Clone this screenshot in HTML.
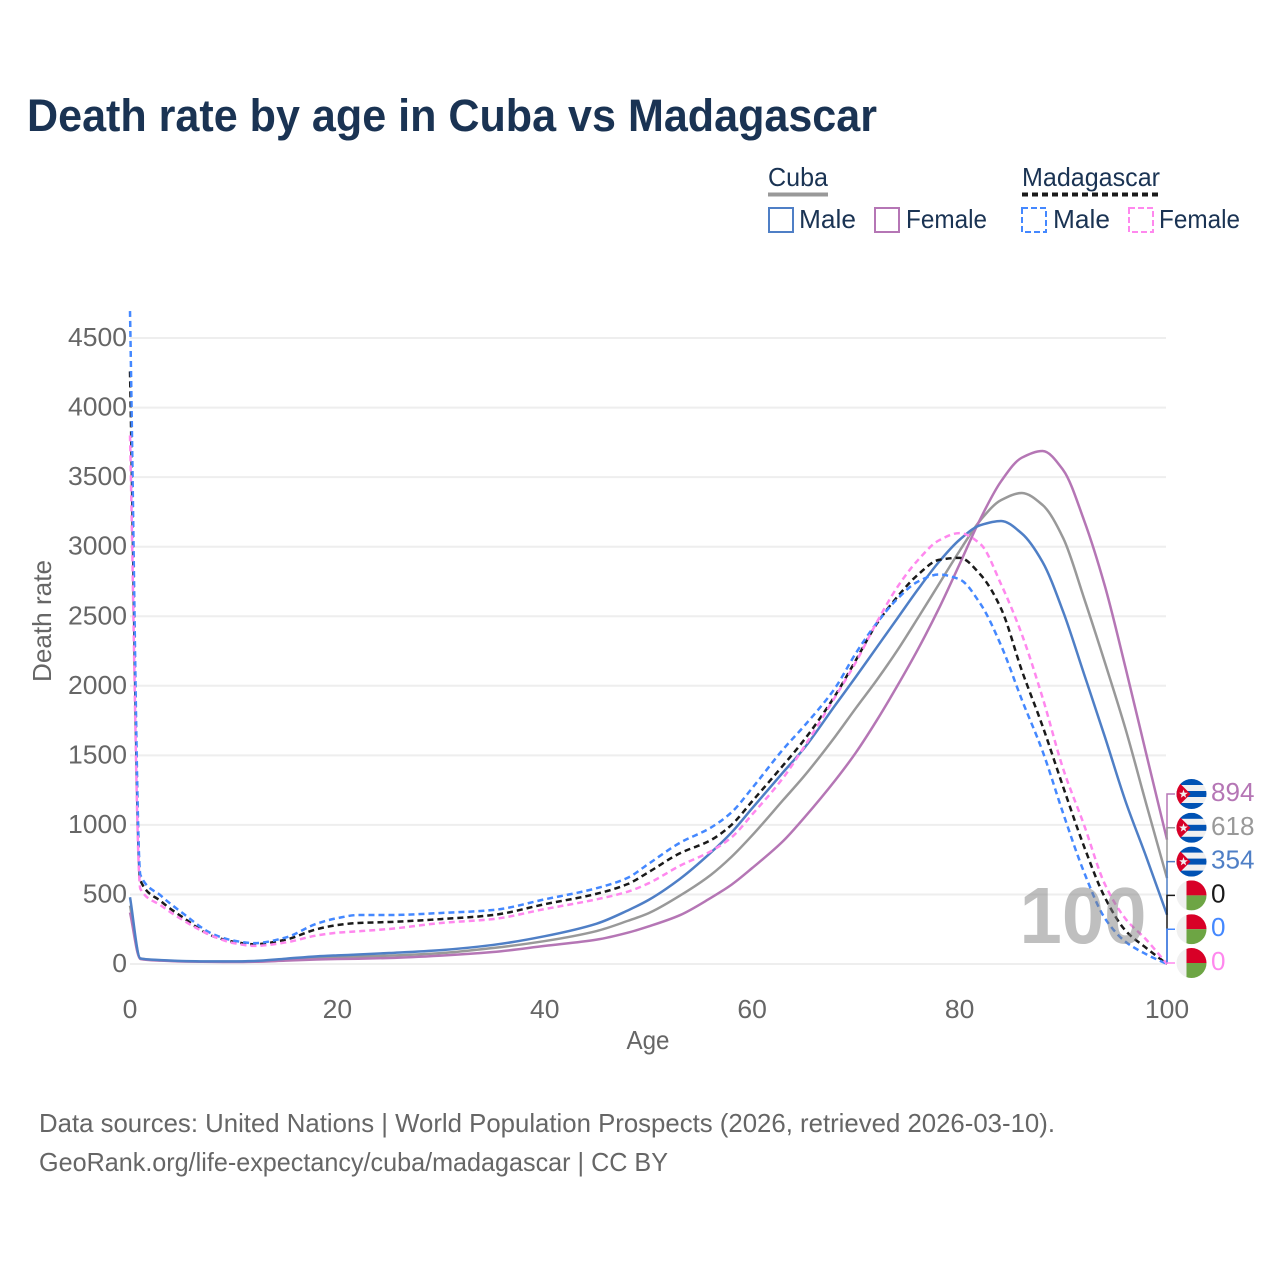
<!DOCTYPE html>
<html lang="en">
<head>
<meta charset="utf-8">
<title>Death rate by age in Cuba vs Madagascar</title>
<style>
html,body{margin:0;padding:0;background:#fff;}
svg{display:block;font-family:"Liberation Sans",sans-serif;}
</style>
</head>
<body>
<svg id="chart" width="1280" height="1280" viewBox="0 0 1280 1280" xmlns="http://www.w3.org/2000/svg">
  <defs>
    <clipPath id="flag-clip"><circle cx="0" cy="0" r="15"></circle></clipPath>
    <g id="flag-cuba">
      <g clip-path="url(#flag-clip)">
        <rect x="-15" y="-15" width="30" height="30" fill="#f0f0f0"></rect>
        <rect x="-15" y="-15" width="30" height="6" fill="#0052b4"></rect>
        <rect x="-15" y="-3" width="30" height="6" fill="#0052b4"></rect>
        <rect x="-15" y="9" width="30" height="6" fill="#0052b4"></rect>
        <polygon points="-15,-14 -15,14 -1,0" fill="#d80027"></polygon>
        <polygon points="-8,-4.5 -6.9,-1.3 -3.6,-1.3 -6.2,0.7 -5.3,3.8 -8,1.9 -10.7,3.8 -9.8,0.7 -12.4,-1.3 -9.1,-1.3" fill="#f0f0f0"></polygon>
      </g>
    </g>
    <g id="flag-madagascar">
      <g clip-path="url(#flag-clip)">
        <rect x="-15" y="-15" width="30" height="30" fill="#f0f0f0"></rect>
        <rect x="-5" y="-15" width="20" height="15" fill="#d80027"></rect>
        <rect x="-5" y="0" width="20" height="15" fill="#6da544"></rect>
      </g>
    </g>
  </defs>

  <text x="27" y="131" font-size="45" font-weight="700" fill="#1a3353" textLength="850" lengthAdjust="spacingAndGlyphs">Death rate by age in Cuba vs Madagascar</text>

  <g font-size="25.6" fill="#1a3353">
    <text x="768" y="186" textLength="60" lengthAdjust="spacingAndGlyphs">Cuba</text>
    <line x1="768" x2="828" y1="194.5" y2="194.5" stroke="#999999" stroke-width="4"></line>
    <text x="1022" y="186" textLength="138" lengthAdjust="spacingAndGlyphs">Madagascar</text>
    <line x1="1022" x2="1159" y1="194.5" y2="194.5" stroke="#1a1a1a" stroke-width="4" stroke-dasharray="6 4"></line>

    <rect x="769" y="208" width="24" height="24" fill="none" stroke="#4f7fc6" stroke-width="2"></rect>
    <text x="799" y="228" textLength="57" lengthAdjust="spacingAndGlyphs">Male</text>
    <rect x="875" y="208" width="24" height="24" fill="none" stroke="#b576b5" stroke-width="2"></rect>
    <text x="906" y="228" textLength="81" lengthAdjust="spacingAndGlyphs">Female</text>
    <rect x="1022" y="208" width="24" height="24" fill="none" stroke="#4488ff" stroke-width="2" stroke-dasharray="6 3"></rect>
    <text x="1053" y="228" textLength="57" lengthAdjust="spacingAndGlyphs">Male</text>
    <rect x="1129" y="208" width="24" height="24" fill="none" stroke="#ff88ee" stroke-width="2" stroke-dasharray="6 3"></rect>
    <text x="1159" y="228" textLength="81" lengthAdjust="spacingAndGlyphs">Female</text>
  </g>

  <g id="grid"></g>
  <g id="y-ticks" font-size="25.6" fill="#666666" text-anchor="end"></g>
  <g id="x-ticks" font-size="25.6" fill="#666666" text-anchor="middle"></g>
  <text x="648" y="1049" font-size="25.6" fill="#666666" text-anchor="middle" textLength="43" lengthAdjust="spacingAndGlyphs">Age</text>
  <text transform="translate(51,621) rotate(-90)" font-size="25.6" fill="#666666" text-anchor="middle" textLength="122" lengthAdjust="spacingAndGlyphs">Death rate</text>

  <g id="series" fill="none" stroke-width="2.5" stroke-linejoin="round"></g>
  <g id="connectors" fill="none" stroke-width="1.5"></g>

  <text x="1083" y="943" font-size="80" font-weight="700" fill="#808080" fill-opacity="0.5" text-anchor="middle" textLength="127" lengthAdjust="spacingAndGlyphs">100</text>

  <g id="end-labels" font-size="25.6"></g>

  <g font-size="25.6" fill="#666666">
    <text x="39" y="1132" textLength="1016" lengthAdjust="spacingAndGlyphs">Data sources: United Nations | World Population Prospects (2026, retrieved 2026-03-10).</text>
    <text x="39" y="1171" textLength="629" lengthAdjust="spacingAndGlyphs">GeoRank.org/life-expectancy/cuba/madagascar | CC BY</text>
  </g>
</svg>

<script>
const ages = [0,1,3,5,8,10,12,15,18,20,22,25,30,35,40,45,48,50,53,56,58,60,63,65,68,70,72,74,76,78,80,82,84,86,88,90,92,94,96,98,100];
const cubaMale = [480,40,28,22,19,19,22,38,55,62,68,79,100,137,200,290,385,460,610,800,945,1120,1380,1550,1860,2065,2275,2485,2695,2890,3050,3155,3185,3095,2890,2530,2085,1635,1170,770,354];
const cubaBoth = [420,40,26,20,17,17,20,32,44,50,54,60,78,115,165,237,310,365,490,640,770,925,1180,1350,1635,1840,2040,2255,2490,2730,2970,3190,3335,3386,3300,3060,2630,2170,1690,1150,618];
const cubaFemale = [370,36,24,18,15,14,16,24,32,36,38,43,60,86,130,175,225,270,350,475,570,690,885,1050,1320,1520,1750,2000,2265,2555,2875,3200,3470,3640,3688,3550,3190,2720,2130,1510,894];
const madBoth = [4260,600,450,340,200,160,142,175,250,280,295,302,323,352,430,505,575,660,795,890,1000,1170,1430,1610,1930,2185,2445,2640,2800,2905,2920,2800,2555,2110,1710,1270,845,480,240,115,0];
const madMale = [4694,640,490,370,215,168,150,190,290,330,352,352,367,388,465,545,620,720,870,980,1090,1265,1545,1710,1985,2235,2450,2625,2750,2800,2765,2590,2290,1900,1530,1080,660,330,160,70,0];
const madFemale = [3800,540,420,320,200,150,130,155,205,225,235,252,295,323,395,465,520,580,705,810,910,1075,1340,1560,1920,2170,2455,2710,2905,3045,3098,3020,2730,2370,1915,1400,1000,575,325,175,0];
const yTickValues = [0,500,1000,1500,2000,2500,3000,3500,4000,4500];
const xTickValues = [0,20,40,60,80,100];
const endValues = [894,618,354,0,0,0];
const endAge = 100;

const NS = 'http://www.w3.org/2000/svg';
const xScale = a => 130 + a * 10.37;
const yScale = v => 964 - v * 0.1391;

function make(tag, attrs, parent) {
  const el = document.createElementNS(NS, tag);
  for (const k in attrs) el.setAttribute(k, attrs[k]);
  parent.appendChild(el);
  return el;
}

function monotonePath(xs, ys) {
  const n = xs.length, d = [], m = [];
  for (let i = 0; i < n - 1; i++) d.push((ys[i + 1] - ys[i]) / (xs[i + 1] - xs[i]));
  m[0] = d[0];
  m[n - 1] = d[n - 2];
  for (let i = 1; i < n - 1; i++) {
    if (d[i - 1] * d[i] <= 0) { m[i] = 0; continue; }
    const h0 = xs[i] - xs[i - 1], h1 = xs[i + 1] - xs[i];
    const w1 = 2 * h1 + h0, w2 = h1 + 2 * h0;
    m[i] = (w1 + w2) / (w1 / d[i - 1] + w2 / d[i]);
  }
  let p = 'M' + xs[0].toFixed(2) + ' ' + ys[0].toFixed(2);
  for (let i = 0; i < n - 1; i++) {
    const h = (xs[i + 1] - xs[i]) / 3;
    p += 'C' + (xs[i] + h).toFixed(2) + ' ' + (ys[i] + m[i] * h).toFixed(2) + ' ' +
         (xs[i + 1] - h).toFixed(2) + ' ' + (ys[i + 1] - m[i + 1] * h).toFixed(2) + ' ' +
         xs[i + 1].toFixed(2) + ' ' + ys[i + 1].toFixed(2);
  }
  return p;
}

const grid = document.getElementById('grid');
const yTicks = document.getElementById('y-ticks');
yTickValues.forEach(v => {
  const line = make('line', {x1: 130, x2: 1166, y1: yScale(v), y2: yScale(v), stroke: '#eeeeee', 'stroke-width': 2}, grid);
  
  
  const label = String(v);
  const t = make('text', {x: 127, y: yScale(v) + 8, textLength: label.length * 14.75, lengthAdjust: 'spacingAndGlyphs'}, yTicks);
  
  
  t.textContent = label;
});

const xTicks = document.getElementById('x-ticks');
xTickValues.forEach(v => {
  const label = String(v);
  const t = make('text', {x: xScale(v), y: 1018, textLength: label.length * 14.75, lengthAdjust: 'spacingAndGlyphs'}, xTicks);
  
  
  t.textContent = label;
});

const seriesGroup = document.getElementById('series');
const xPixels = ages.map(xScale);
function drawSeries(values, color, dash, name) {
  const attrs = {d: monotonePath(xPixels, values.map(yScale)), stroke: color};
  if (dash) attrs['stroke-dasharray'] = dash;
  const path = make('path', attrs, seriesGroup);
  
  
}
drawSeries(cubaBoth, '#999999', '', 'line-cuba-both');
drawSeries(cubaFemale, '#b576b5', '', 'line-cuba-female');
drawSeries(cubaMale, '#4f7fc6', '', 'line-cuba-male');
drawSeries(madBoth, '#1a1a1a', '6 4', 'line-madagascar-both');
drawSeries(madMale, '#4488ff', '6 4', 'line-madagascar-male');
drawSeries(madFemale, '#ff88ee', '6 4', 'line-madagascar-female');

const endColors = ['#b576b5', '#999999', '#4f7fc6', '#1a1a1a', '#4488ff', '#ff88ee'];
const endFlags = ['flag-cuba', 'flag-cuba', 'flag-cuba', 'flag-madagascar', 'flag-madagascar', 'flag-madagascar'];
const connectors = document.getElementById('connectors');
const endLabels = document.getElementById('end-labels');
endValues.forEach((v, i) => {
  const rowY = 794 + i * 33.8;
  const conn = make('path', {d: 'M' + xScale(endAge) + ' ' + yScale(v) + 'V' + rowY + 'H1175', stroke: endColors[i]}, connectors);
  
  
  const flag = make('use', {href: '#' + endFlags[i], x: 1191.5, y: rowY}, endLabels);
  
  
  const label = String(v);
  const t = make('text', {x: 1211, y: rowY + 7, fill: endColors[i], textLength: label.length * 14.5, lengthAdjust: 'spacingAndGlyphs'}, endLabels);
  
  
  t.textContent = label;
});
</script>
</body>
</html>
